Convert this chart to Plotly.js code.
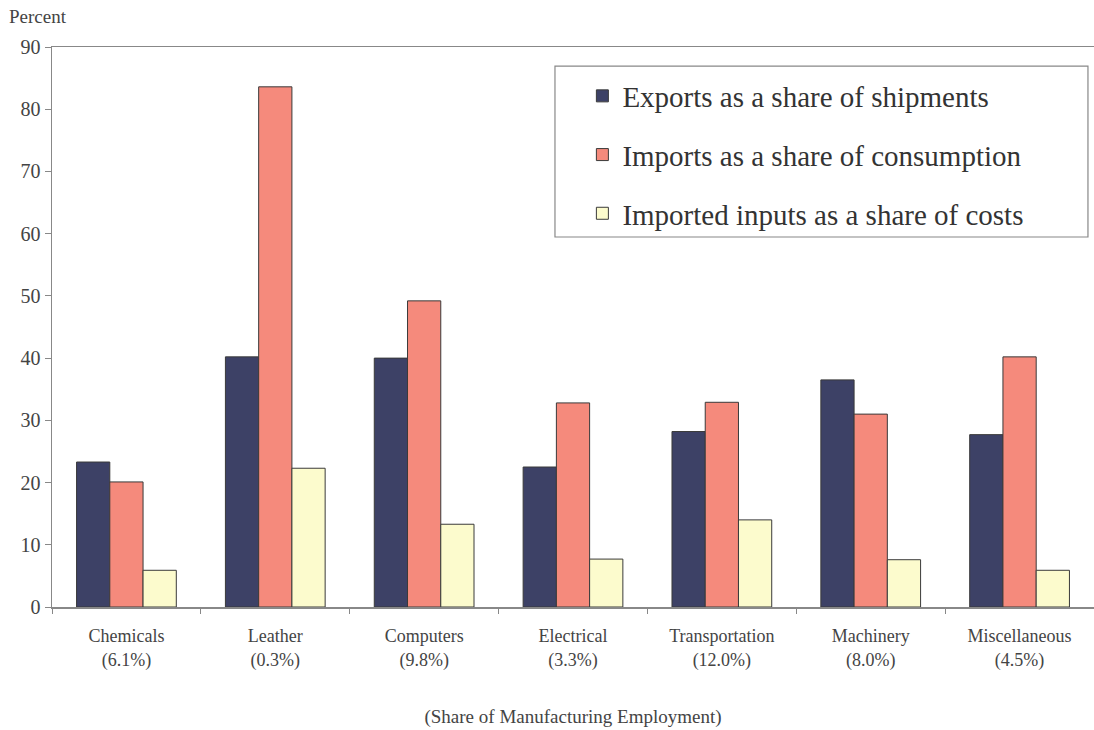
<!DOCTYPE html>
<html>
<head>
<meta charset="utf-8">
<script src="https://cdn.plot.ly/plotly-3.0.1.min.js"></script>
<style>html,body{margin:0;padding:0;background:#fff;}#chart{width:1094px;height:730px;}</style>
</head>
<body>
<div id="chart"></div>
<script>
const categories = ["Chemicals<br>(6.1%)", "Leather<br>(0.3%)", "Computers<br>(9.8%)", "Electrical<br>(3.3%)", "Transportation<br>(12.0%)", "Machinery<br>(8.0%)", "Miscellaneous<br>(4.5%)"];
const exportsShare = [23.3, 40.2, 40.0, 22.5, 28.2, 36.5, 27.7];
const importsShare = [20.1, 83.6, 49.2, 32.8, 32.9, 31.0, 40.2];
const importedInputs = [5.9, 22.3, 13.3, 7.7, 14.0, 7.6, 5.9];
const seriesNames = ["Exports as a share of shipments", "Imports as a share of consumption", "Imported inputs as a share of costs"];
const yTicks = [0, 10, 20, 30, 40, 50, 60, 70, 80, 90];

const serif = "Liberation Serif, Times New Roman, serif";
const line = {color: "#3a3a3a", width: 1};
const traces = [
  {type: "bar", name: seriesNames[0], legendgroup: "a", x: categories, y: exportsShare, marker: {color: "#3d4166", line: line}},
  {type: "bar", name: seriesNames[1], legendgroup: "b", x: categories, y: importsShare, marker: {color: "#f58a7c", line: line}},
  {type: "bar", name: seriesNames[2], legendgroup: "c", x: categories, y: importedInputs, marker: {color: "#fcfbcd", line: line}}
];
const layout = {
  width: 1094, height: 730,
  margin: {l: 52, r: 0, t: 47, b: 123},
  paper_bgcolor: "#fff", plot_bgcolor: "#fff",
  barmode: "group", bargap: 0.33, bargroupgap: 0,
  font: {family: serif, color: "#444", size: 18},
  showlegend: true,
  legend: {
    x: 0.509, y: 0.958, xanchor: "left", yanchor: "top",
    borderwidth: 0, bgcolor: "rgba(0,0,0,0)",
    font: {family: serif, size: 29, color: "#333"},
    tracegroupgap: 18, itemwidth: 30,
    traceorder: "grouped"
  },
  shapes: [
    {type: "rect", xref: "paper", yref: "paper", x0: 0.4827, x1: 0.9942, y0: 0.6607, y1: 0.966, line: {color: "#888", width: 1.2}, fillcolor: "#fff", layer: "below"}
  ],
  xaxis: {
    type: "category", tickson: "boundaries", ticks: "outside", ticklen: 5, tickcolor: "#888",
    showline: true, linecolor: "#888", linewidth: 1.5, mirror: true,
    tickfont: {family: serif, size: 18, color: "#444"},
    ticklabelstandoff: 12,
    title: {text: "(Share of Manufacturing Employment)", font: {family: serif, size: 19, color: "#444"}, standoff: 40},
    showgrid: false, fixedrange: true
  },
  yaxis: {
    range: [0, 90], tickvals: yTicks, ticks: "outside", ticklen: 6, tickcolor: "#888",
    showline: true, linecolor: "#888", linewidth: 1.5,
    showgrid: false, zeroline: false,
    tickfont: {family: serif, size: 20, color: "#444"}
  },
  annotations: [
    {text: "Percent", xref: "paper", yref: "paper", x: -0.043, y: 1.055, xanchor: "left", yanchor: "middle", showarrow: false, font: {family: serif, size: 19, color: "#444"}}
  ]
};
Plotly.newPlot("chart", traces, layout, {displayModeBar: false, staticPlot: true});
</script>
</body>
</html>
